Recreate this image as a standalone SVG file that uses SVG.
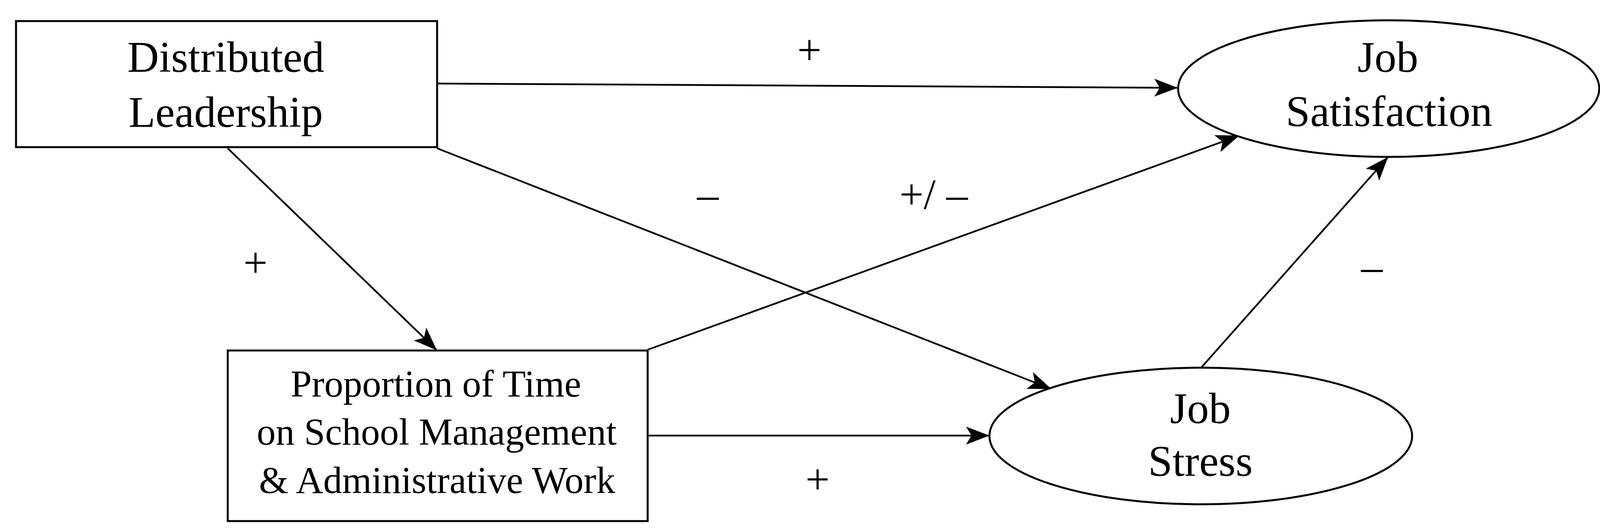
<svg xmlns="http://www.w3.org/2000/svg" width="4118" height="1363" viewBox="0 0 4118 1363">
<style>
.box{fill:#fff;stroke:#000;stroke-width:5}
.t{font-family:"Liberation Serif","Times New Roman",serif;fill:#000;text-anchor:middle}
.big{font-size:112px}
.mid{font-size:97px}
.lbl{font-size:110px}
.c{stroke:#000;stroke-width:4.5;fill:none;marker-end:url(#ah)}
</style>
<defs>
<marker id="ah" markerUnits="userSpaceOnUse" markerWidth="60" markerHeight="50" viewBox="0 0 60 50" refX="58" refY="25" orient="auto">
<path d="M0,2 L60,25 L0,48 L14,25 z" fill="#000"/>
</marker>
</defs>
<rect width="4118" height="1363" fill="#fff"/>
<g id="connectors">
<line class="c" x1="1119" y1="214" x2="3013" y2="225"/>
<line class="c" x1="583" y1="380" x2="1117" y2="896"/>
<line class="c" x1="1119" y1="380" x2="2690" y2="996"/>
<line class="c" x1="1658" y1="896" x2="3171" y2="348"/>
<line class="c" x1="1658" y1="1116" x2="2531" y2="1116"/>
<line class="c" x1="3075" y1="942" x2="3552" y2="404"/>
</g>
<g id="labels">
<text class="t lbl" x="2072" y="165">+</text>
<text class="t lbl" x="654" y="710">+</text>
<text class="t lbl" x="1812" y="535">–</text>
<text class="t lbl" x="2390" y="535">+/ –</text>
<text class="t lbl" x="3512" y="720">–</text>
<text class="t lbl" x="2093" y="1265">+</text>
</g>
<g id="node-dl">
<rect class="box" x="41" y="54" width="1078" height="323"/>
<text class="t big" x="578" y="184">Distributed</text>
<text class="t big" x="578" y="325">Leadership</text>
</g>
<g id="node-pt">
<rect class="box" x="583" y="898" width="1075" height="437"/>
<text class="t mid" x="1116" y="1016">Proportion of Time</text>
<text class="t mid" x="1118" y="1139">on School Management</text>
<text class="t mid" x="1119" y="1263">&amp; Administrative Work</text>
</g>
<g id="node-sat">
<ellipse class="box" cx="3555" cy="227" rx="539" ry="175"/>
<text class="t big" x="3553" y="184">Job</text>
<text class="t big" x="3556" y="323">Satisfaction</text>
</g>
<g id="node-stress">
<ellipse class="box" cx="3074" cy="1117" rx="541" ry="175"/>
<text class="t big" x="3073" y="1084">Job</text>
<text class="t big" x="3073" y="1219">Stress</text>
</g>
</svg>
